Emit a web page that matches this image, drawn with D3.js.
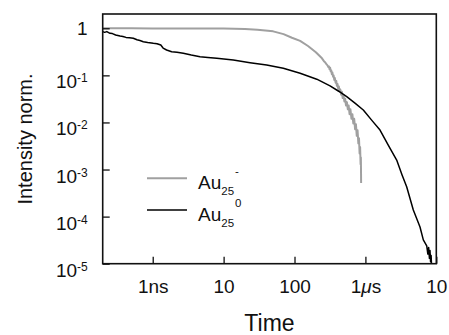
<!DOCTYPE html>
<html>
<head>
<style>
  body { margin: 0; background: #fff; }
  text { font-family: "Liberation Sans", Arial, sans-serif; fill: #111; }
</style>
</head>
<body>
<svg width="449" height="335"></svg>
<script src="https://d3js.org/d3.v7.min.js"></script>
<script>

// time in ns, intensity normalized
var grayT = [0.197, 0.5, 1, 3, 10, 20, 30, 50, 70, 92, 120, 155, 200, 244, 260, 270, 280, 290,
  300, 306, 312, 318, 324, 330, 336, 342, 350, 356, 364, 370, 380, 388, 396, 404, 414, 422,
  432, 442, 455, 465, 478, 490, 505, 518, 532, 548, 565, 580, 598, 615, 635, 655, 675, 695,
  715, 735, 755, 775, 795, 812, 828, 842, 855, 863, 868, 870];
var grayI = [1.0, 1.0, 0.995, 0.99, 0.985, 0.96, 0.93, 0.86, 0.75, 0.63, 0.54, 0.42, 0.31, 0.23, 0.2, 0.19, 0.175, 0.165,
  0.15, 0.155, 0.135, 0.145, 0.122, 0.128, 0.106, 0.115, 0.094, 0.1, 0.08, 0.088, 0.07, 0.076, 0.06, 0.066, 0.052, 0.058,
  0.045, 0.05, 0.039, 0.045, 0.033, 0.038, 0.028, 0.032, 0.023, 0.027, 0.019, 0.023, 0.015, 0.019, 0.012, 0.015, 0.0095, 0.012,
  0.0072, 0.0092, 0.0052, 0.0068, 0.0036, 0.0046, 0.0022, 0.003, 0.0013, 0.0018, 0.0008, 0.00052];

var blackT = [0.197, 0.21, 0.225, 0.25, 0.27, 0.3, 0.346, 0.38, 0.42, 0.47, 0.532, 0.6, 0.66, 0.736,
  0.85, 1.02, 1.15, 1.3, 1.4, 1.57, 1.85, 2.2, 2.7, 3.5, 4.65, 6, 8, 13.7, 23.6, 40.5, 69.5, 120,
  206, 317, 420, 545, 720, 934, 1250, 1607, 2100, 2762, 3300, 3820, 4740, 5890, 6560, 7330,
  7600, 7800, 8000, 8150, 8300, 8450, 8600];
var blackI = [0.85, 0.82, 0.85, 0.78, 0.77, 0.72, 0.686, 0.67, 0.64, 0.63, 0.613, 0.57, 0.55, 0.519,
  0.5, 0.48, 0.47, 0.44, 0.38, 0.346, 0.318, 0.31, 0.294, 0.27, 0.249, 0.24, 0.231, 0.212, 0.186, 0.166, 0.141, 0.111,
  0.083, 0.06, 0.046, 0.0352, 0.0254, 0.0184, 0.0108, 0.0069, 0.0033, 0.00159, 0.00076, 0.00043, 0.000138, 0.00006, 0.000032, 0.000024,
  0.000016, 0.000022, 0.000013, 0.000019, 0.000011, 0.000015, 0.000008];

var xTicks = [1, 10, 100, 1000, 10000];
var xTickLabels = ["1ns", "10", "100", "1\u03bcs", "10"];
var yTicks = [1, 1e-1, 1e-2, 1e-3, 1e-4, 1e-5];
var yExps = ["0", "-1", "-2", "-3", "-4", "-5"];

var seriesNames = ["Au", "Au"];
var seriesSup = ["-", "0"];
var seriesColors = ["#a0a0a0", "#000"];

//set up svg
var svg = d3.select("svg"),
  margin = { top: 14, left: 102.7 },
  width = 333.6,
  height = 249.7,
  g = svg.append("g").attr("transform", "translate(" + margin.left + "," + margin.top + ")");

var x = d3.scaleLog().domain([0.197, 10000]).range([0, width]);
var y = d3.scaleLog().domain([1e-5, 2.01]).range([height, 0]);

g.append("clipPath").attr("id", "clip")
  .append("rect").attr("width", width).attr("height", height);

var line = d3.line()
  .x(function(d) { return x(d[0]); })
  .y(function(d) { return y(d[1]); });

var gray = grayT.map(function(t, i) { return [t, grayI[i]]; });
var black = blackT.map(function(t, i) { return [t, blackI[i]]; });

g.append("path").datum(gray)
  .attr("clip-path", "url(#clip)")
  .attr("fill", "none").attr("stroke", seriesColors[0])
  .attr("stroke-width", 2).attr("stroke-linejoin", "round")
  .attr("d", line);

g.append("path").datum(black)
  .attr("clip-path", "url(#clip)")
  .attr("fill", "none").attr("stroke", seriesColors[1])
  .attr("stroke-width", 1.5).attr("stroke-linejoin", "round")
  .attr("d", line);

// axes, ticks pointing inward
var xAxis = g.append("g")
  .attr("transform", "translate(0," + height + ")")
  .call(d3.axisBottom(x).tickValues(xTicks).tickSize(-7)
    .tickFormat(function(d, i) { return xTickLabels[i]; }));

xAxis.selectAll("text")
  .attr("y", 29.6).attr("dy", null)
  .attr("font-size", 19).attr("fill", "#111")
  .attr("font-family", "Liberation Sans, Arial, sans-serif")
  .each(function(d, i) {
    if (i == 3) {
      var t = d3.select(this).text("1");
      t.append("tspan").attr("font-style", "italic").text("\u03bc");
      t.append("tspan").text("s");
    }
  });

var yAxis = g.append("g")
  .call(d3.axisLeft(y).tickValues(yTicks).tickSize(-7).tickFormat(""));

yAxis.selectAll(".tick").each(function(d, i) {
  var t = d3.select(this).append("text")
    .attr("x", -15).attr("text-anchor", "end")
    .attr("font-size", 19).attr("fill", "#111")
    .attr("font-family", "Liberation Sans, Arial, sans-serif");
  if (i == 0) {
    t.attr("y", 6.7).text("1");
  } else {
    t.attr("y", 12.5).text("10");
    t.append("tspan").attr("font-size", 12).attr("dy", -6).text(yExps[i]);
  }
});

g.selectAll(".domain").remove();
g.selectAll(".tick line").attr("stroke", "#111").attr("stroke-width", 1.3);

// frame
g.append("rect")
  .attr("width", width).attr("height", height)
  .attr("fill", "none").attr("stroke", "#111").attr("stroke-width", 1.6);

// titles
svg.append("text")
  .attr("x", margin.left + width / 2).attr("y", 331)
  .attr("text-anchor", "middle").attr("font-size", 23)
  .text("Time");

svg.append("text")
  .attr("transform", "translate(32,139) rotate(-90)")
  .attr("text-anchor", "middle").attr("font-size", 20)
  .text("Intensity norm.");

//legend
var legend = svg.append("g")
  .selectAll("g")
  .data(seriesNames)
  .enter().append("g")
  .attr("transform", function(d, i) { return "translate(147," + (178.3 + i * 31.7) + ")"; });

legend.append("line")
  .attr("x1", 0).attr("x2", 40)
  .attr("stroke", function(d, i) { return seriesColors[i]; })
  .attr("stroke-width", function(d, i) { return i == 0 ? 2 : 1.5; });

var lt = legend.append("text")
  .attr("x", 51).attr("y", 10.5)
  .attr("font-size", 19)
  .text(function(d) { return d; });

lt.append("tspan").attr("font-size", 11.5).attr("dy", 6.5).text("25");
lt.append("tspan").attr("font-size", 11.5).attr("dy", -20).attr("dx", 1)
  .text(function(d, i) { return seriesSup[i]; });

</script>
</body>
</html>
